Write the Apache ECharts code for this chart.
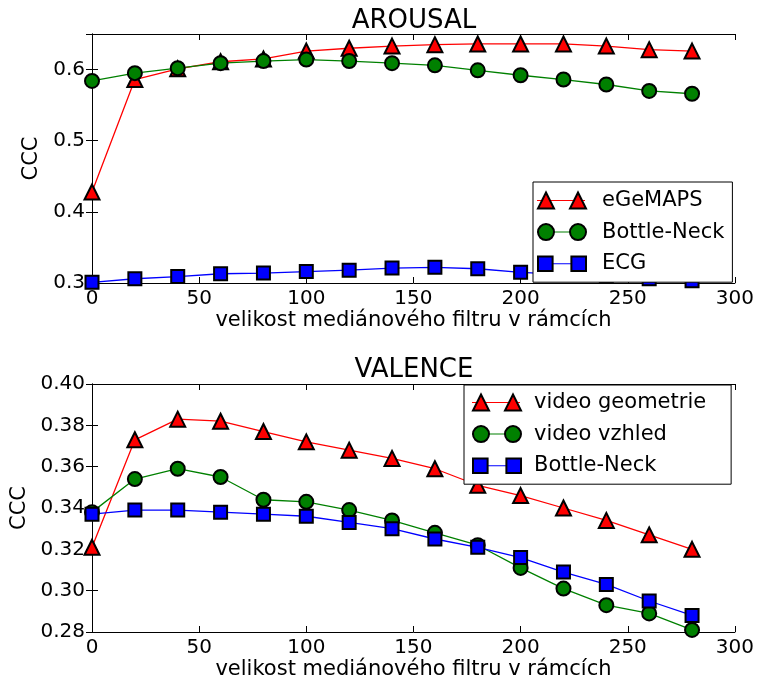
<!DOCTYPE html>
<html>
<head>
<meta charset="utf-8">
<script src="https://cdn.jsdelivr.net/npm/echarts@6/dist/echarts.min.js"></script>
<style>
html, body { margin: 0; padding: 0; background: #fff; }
#chart { width: 757px; height: 684px; }
</style>
</head>
<body>
<div id="chart"></div>
<script>
// velikost filtru (x)
var filterSizes = [0, 20, 40, 60, 80, 100, 120, 140, 160, 180, 200, 220, 240, 260, 280];

// AROUSAL
var arousalEgemaps = [0.428, 0.586, 0.601, 0.611, 0.615, 0.626, 0.630, 0.633, 0.635, 0.636, 0.636, 0.636, 0.633, 0.628, 0.626];
var arousalBottleNeck = [0.584, 0.595, 0.602, 0.609, 0.612, 0.614, 0.612, 0.609, 0.606, 0.599, 0.592, 0.586, 0.579, 0.570, 0.566];
var arousalEcg = [0.301, 0.306, 0.309, 0.313, 0.314, 0.316, 0.318, 0.321, 0.322, 0.320, 0.315, 0.312, 0.309, 0.306, 0.303];

// VALENCE
var valenceGeometrie = [0.321, 0.373, 0.383, 0.382, 0.377, 0.372, 0.368, 0.364, 0.359, 0.351, 0.346, 0.340, 0.334, 0.327, 0.320];
var valenceVzhled = [0.338, 0.354, 0.359, 0.355, 0.344, 0.343, 0.339, 0.334, 0.328, 0.322, 0.311, 0.301, 0.293, 0.289, 0.281];
var valenceBottleNeck = [0.337, 0.339, 0.339, 0.338, 0.337, 0.336, 0.333, 0.330, 0.325, 0.321, 0.316, 0.309, 0.303, 0.295, 0.288];

var xTicks = { min: 0, max: 300, interval: 50 };
var arousalTicks = { min: 0.3, max: 0.65, interval: 0.1 };
var valenceTicks = { min: 0.28, max: 0.40, interval: 0.02 };

var FONT = 'DejaVu Sans';
var xName = 'velikost mediánového filtru v rámcích';

// ikony legendy: dva markery vedle sebe a tenká čára
var iconTri = 'path://M8,0L16,16L0,16ZM40,0L48,16L32,16Z';
var iconCircle = 'path://M0,8A8,8,0,1,1,16,8A8,8,0,1,1,0,8ZM32,8A8,8,0,1,1,48,8A8,8,0,1,1,32,8Z';
var iconSquare = 'path://M1,1H15V15H1ZM33,1H47V15H33Z';
var iconLine = 'path://M0,0H48V1H0Z';

function pairs(vals) {
	return filterSizes.map(function(x, i) { return [x, vals[i]]; });
}

function xAxisPair(grid) {
	var base = {
		type: 'value', gridIndex: grid, min: xTicks.min, max: xTicks.max, interval: xTicks.interval,
		splitLine: { show: false },
		axisLine: { lineStyle: { color: '#000', width: 1 } },
		axisTick: { inside: true, length: 6, lineStyle: { color: '#000' } }
	};
	var bottom = Object.assign({}, base, {
		position: 'bottom',
		name: xName, nameLocation: 'middle', nameGap: 27,
		nameTextStyle: { fontFamily: FONT, fontSize: 21, color: '#000' },
		axisLabel: { fontFamily: FONT, fontSize: 20, color: '#000', margin: 6 }
	});
	var top = Object.assign({}, base, { position: 'top', axisLabel: { show: false } });
	return [bottom, top];
}

function yAxisPair(grid, t, fmt) {
	var base = {
		type: 'value', gridIndex: grid, min: t.min, max: t.max, interval: t.interval,
		splitLine: { show: false },
		axisLine: { show: true, lineStyle: { color: '#000', width: 1 } },
		axisTick: { show: true, inside: true, length: 6, lineStyle: { color: '#000' } }
	};
	var left = Object.assign({}, base, {
		position: 'left',
		name: 'CCC', nameLocation: 'middle', nameGap: 47,
		nameTextStyle: { fontFamily: FONT, fontSize: 21, color: '#000' },
		axisLabel: { fontFamily: FONT, fontSize: 20, color: '#000', margin: 7, showMaxLabel: t.max === 0.4, formatter: fmt }
	});
	var right = Object.assign({}, base, { position: 'right', axisLabel: { show: false } });
	return [left, right];
}

function lineSeries(name, vals, color, symbol, size, axis) {
	return {
		name: name, type: 'line', data: pairs(vals),
		xAxisIndex: axis, yAxisIndex: axis,
		symbol: symbol, symbolSize: size,
		showAllSymbol: true, clip: true,
		lineStyle: { color: color, width: 1.3 },
		itemStyle: { color: color, borderColor: '#000', borderWidth: 2 },
		emphasis: { disabled: true },
		animation: false
	};
}

function legends(names, box, pad) {
	var icons = [iconTri, iconCircle, iconSquare];
	var common = {
		orient: 'vertical', left: box.left, top: box.top, padding: pad,
		itemWidth: 48, itemHeight: 16, itemGap: 10.6,
		selectedMode: false, symbolKeepAspect: true,
		formatter: function(n) { return n.trim(); }
	};
	// spodní vrstva: rámeček, text a čára
	var back = Object.assign({}, common, {
		data: names.map(function(n) { return { name: n, icon: iconLine }; }),
		backgroundColor: '#fff', borderColor: '#000', borderWidth: 1, borderRadius: 0,
		itemStyle: { borderWidth: 0 },
		textStyle: { fontFamily: FONT, fontSize: 21, lineHeight: 21, color: '#000', padding: [0, 0, 0, box.textPad] },
		z: 6
	});
	// horní vrstva: markery
	var front = Object.assign({}, common, {
		data: names.map(function(n, i) { return { name: n, icon: icons[i] }; }),
		backgroundColor: 'transparent', borderWidth: 0,
		itemStyle: { borderColor: '#000', borderWidth: 2 },
		textStyle: { fontFamily: FONT, fontSize: 21, lineHeight: 21, color: 'rgba(0,0,0,0)', padding: [0, 0, 0, box.textPad] },
		z: 7
	});
	return [back, front];
}

var myChart = echarts.init(document.getElementById('chart'), null, { renderer: 'canvas' });

var xa = xAxisPair(0).concat(xAxisPair(1));
var ya = yAxisPair(0, arousalTicks).concat(yAxisPair(1, valenceTicks, function(v) { return v.toFixed(2); }));

var option = {
	backgroundColor: '#fff',
	animation: false,
	textStyle: { fontFamily: FONT },
	title: [
		{ text: 'AROUSAL', left: 414, top: 8, textAlign: 'center', padding: 0,
		  textStyle: { fontFamily: FONT, fontSize: 26, fontWeight: 'normal', color: '#000' } },
		{ text: 'VALENCE', left: 414, top: 357, textAlign: 'center', padding: 0,
		  textStyle: { fontFamily: FONT, fontSize: 26, fontWeight: 'normal', color: '#000' } }
	],
	grid: [
		{ left: 92, top: 34, width: 645, height: 249 },
		{ left: 92, top: 384, width: 645, height: 248 }
	],
	xAxis: xa,
	yAxis: ya,
	legend: legends(['eGeMAPS', 'Bottle-Neck', 'ECG'], { left: 533, top: 182, textPad: 12 }, [8, 8, 8, 4])
		.concat(legends(['video geometrie', 'video vzhled', 'Bottle-Neck '], { left: 464, top: 385, textPad: 9 }, [7, 25, 8, 8])),
	series: [
		lineSeries('eGeMAPS', arousalEgemaps, '#ff0000', 'triangle', 15, 0),
		lineSeries('Bottle-Neck', arousalBottleNeck, '#008000', 'circle', 14, 0),
		lineSeries('ECG', arousalEcg, '#0000ff', 'rect', 13, 0),
		lineSeries('video geometrie', valenceGeometrie, '#ff0000', 'triangle', 15, 2),
		lineSeries('video vzhled', valenceVzhled, '#008000', 'circle', 14, 2),
		lineSeries('Bottle-Neck ', valenceBottleNeck, '#0000ff', 'rect', 13, 2)
	]
};
myChart.setOption(option);
</script>
</body>
</html>
